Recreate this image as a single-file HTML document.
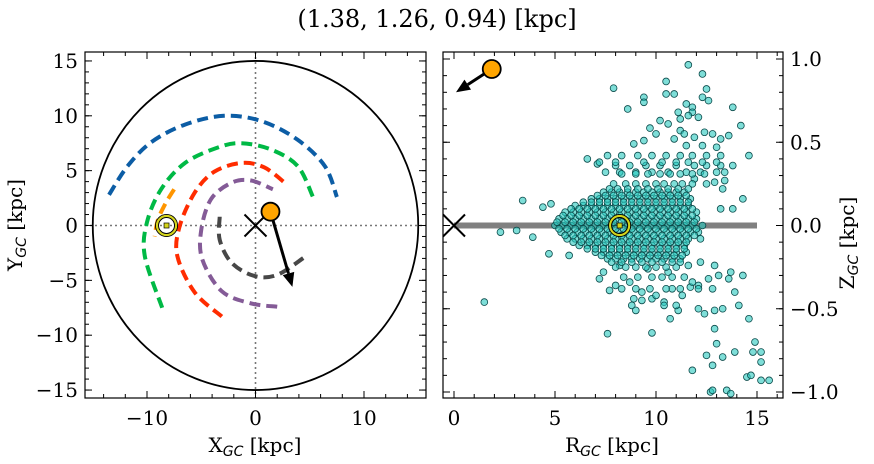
<!DOCTYPE html>
<html><head><meta charset="utf-8">
<style>
body{margin:0;background:#fff;}
svg{display:block;font-family:"DejaVu Serif","Liberation Serif",serif;}
.sub{font-family:"DejaVu Sans",sans-serif;font-style:italic;}
</style></head>
<body>
<svg id="fig" width="874" height="464" viewBox="0 0 874 464" xmlns="http://www.w3.org/2000/svg">
<text x="437" y="27" text-anchor="middle" font-size="24">(1.38, 1.26, 0.94) [kpc]</text>
<g id="left"></g>
<g id="right"></g>
<text x="255" y="452" text-anchor="middle" font-size="20">X<tspan class="sub" font-size="14" dy="4">GC</tspan><tspan dy="-4"> [kpc]</tspan></text>
<text transform="translate(22,225) rotate(-90)" text-anchor="middle" font-size="20">Y<tspan class="sub" font-size="14" dy="4">GC</tspan><tspan dy="-4"> [kpc]</tspan></text>
<text x="612" y="452" text-anchor="middle" font-size="20">R<tspan class="sub" font-size="14" dy="4">GC</tspan><tspan dy="-4"> [kpc]</tspan></text>
<text transform="translate(854,243) rotate(-90)" text-anchor="middle" font-size="20">Z<tspan class="sub" font-size="14" dy="4">GC</tspan><tspan dy="-4"> [kpc]</tspan></text>
</svg>
<script>
// ---- data ----
const xTicks = [-10, 0, 10];
const yTicks = [15, 10, 5, 0, -5, -10, -15];
const rTicks = [0, 5, 10, 15];
const zTicks = [1.0, 0.5, 0.0, -0.5, -1.0];
const zTickLabels = ["1.0", "0.5", "0.0", "\u22120.5", "\u22121.0"];
const starXYZ = [1.38, 1.26, 0.94];
const starArrowXY = [3.4, -5.6];
const starArrowRZ = [0.1, 0.8];
const sunX = -8.2;
const sunR = 8.2;
const diskRadius = 15;
const arcBlue = [[-13.5,2.8],[-11.8,5.4],[-9.6,7.6],[-6.5,9.2],[-2.9,10.0],[0.6,9.5],[3.9,7.8],[6.4,5.4],[7.5,2.6]];
const arcGreen = [[-8.6,-7.5],[-10.2,-2.8],[-10.0,0.3],[-8.7,3.3],[-6.5,5.7],[-3.5,7.1],[-1.3,7.5],[1.5,6.9],[3.9,5.4],[5.3,2.6]];
const arcRed = [[-3.1,-8.3],[-5.6,-6.1],[-7.2,-2.8],[-7.0,-0.1],[-5.6,3.0],[-3.8,4.9],[-1.3,5.7],[0.8,5.3],[2.7,3.9]];
const arcPurple = [[2.0,-7.4],[-0.4,-7.1],[-3.1,-6.0],[-4.9,-3.1],[-5.0,-0.4],[-4.1,2.4],[-2.2,3.9],[-0.4,4.1],[1.6,3.3]];
const arcGray = [[-3.3,0.8],[-3.3,-1.3],[-2.2,-3.4],[-0.1,-4.6],[2.0,-4.5],[4.5,-2.9]];
const arcOrange = [[-7.5,3.3],[-8.3,2.0],[-9.0,0.5],[-9.3,-1.0]];
const coreZ = [0.0,0.04,-0.04,0.08,-0.08,0.12,-0.12,0.16,-0.16,0.20,-0.20,0.25,-0.25,0.31,-0.31,0.38,-0.38,
  0.02,-0.02,0.06,-0.06,0.10,-0.10,0.14,-0.14,0.18,-0.18,0.22,-0.22];
const coreR = [
 [5.0,5.4,5.8,6.2,6.6,7.0,7.4,7.8,8.6,9.0,9.4,9.8,10.2,10.6,11.0,11.4,11.8,12.3],
 [5.2,5.6,6.0,6.4,6.8,7.2,7.6,8.0,8.4,8.8,9.2,9.6,10.0,10.4,10.8,11.2,11.6,12.0],
 [5.3,5.7,6.1,6.5,6.9,7.3,7.7,8.1,8.5,8.9,9.3,9.7,10.1,10.5,10.9,11.3,11.7,12.1],
 [5.5,5.9,6.3,6.7,7.1,7.5,7.9,8.3,8.7,9.1,9.5,9.9,10.3,10.7,11.1,11.5,12.0],
 [5.6,6.0,6.4,6.8,7.2,7.6,8.0,8.4,8.8,9.2,9.6,10.0,10.4,10.8,11.2,11.6,12.2],
 [6.0,6.4,6.8,7.2,7.6,8.0,8.4,8.8,9.2,9.6,10.0,10.4,10.8,11.2,11.6],
 [6.2,6.6,7.0,7.4,7.8,8.2,8.6,9.0,9.4,9.8,10.2,10.6,11.0,11.4],
 [6.8,7.2,7.6,8.0,8.4,8.8,9.2,9.6,10.0,10.4,10.8,11.2,11.7],
 [7.0,7.4,7.8,8.2,8.6,9.0,9.4,9.8,10.2,10.6,11.0,11.5],
 [7.4,7.8,8.2,8.6,9.0,9.4,9.8,10.2,10.6,11.0,11.4],
 [7.6,8.0,8.4,8.8,9.2,9.6,10.0,10.4,10.8,11.2],
 [7.9,8.5,9.0,9.5,10.0,10.4,10.9,11.3,11.8],
 [8.0,8.5,9.0,9.5,10.0,10.5,11.0],
 [8.3,9.0,9.6,10.2,10.7,11.2,11.8,12.4],
 [8.4,9.1,9.8,10.3,10.8,11.4],
 [7.2,8.0,9.4,10.3,11.0,11.6,12.3,13.0],
 [8.3,9.0,9.7,10.5,11.2,12.1,12.8],
 [5.1,5.5,5.9,6.3,6.7,7.1,7.5,7.9,8.3,8.7,9.1,9.5,9.9,10.3,10.7,11.1,11.5,11.9],
 [5.2,5.6,6.0,6.4,6.8,7.2,7.6,8.0,8.4,8.8,9.2,9.6,10.0,10.4,10.8,11.2,11.6,12.0],
 [5.4,5.8,6.2,6.6,7.0,7.4,7.8,8.2,8.6,9.0,9.4,9.8,10.2,10.6,11.0,11.4,11.8],
 [5.5,5.9,6.3,6.7,7.1,7.5,7.9,8.3,8.7,9.1,9.5,9.9,10.3,10.7,11.1,11.5,11.9],
 [5.8,6.2,6.6,7.0,7.4,7.8,8.2,8.6,9.0,9.4,9.8,10.2,10.6,11.0,11.4,11.8],
 [5.9,6.3,6.7,7.1,7.5,7.9,8.3,8.7,9.1,9.5,9.9,10.3,10.7,11.1,11.5],
 [6.4,6.8,7.2,7.6,8.0,8.4,8.8,9.2,9.6,10.0,10.4,10.8,11.2,11.6],
 [6.6,7.0,7.4,7.8,8.2,8.6,9.0,9.4,9.8,10.2,10.6,11.0,11.4],
 [7.1,7.5,7.9,8.3,8.7,9.1,9.5,9.9,10.3,10.7,11.1,11.5],
 [7.3,7.7,8.1,8.5,8.9,9.3,9.7,10.1,10.5,10.9,11.3],
 [7.7,8.1,8.6,9.1,9.6,10.1,10.6,11.1,11.6],
 [7.8,8.3,8.8,9.3,9.8,10.3,10.8,11.2]
];
const outerR = [11.6,12.3,10.5,7.9,12.5,10.5,10.9,9.4,9.4,12.3,12.6,8.6,11.5,11.8,11.8,12.1,13.8,11.1,11.2,11.6,10.2,10.6,9.7,14.2,
 11.2,11.4,11.9,12.4,12.8,13.2,13.6,10.0,9.4,8.9,10.9,11.5,12.3,13.0,7.6,8.3,9.1,9.8,10.5,11.2,11.8,12.5,13.2,14.6,6.6,7.1,
 8.0,8.7,9.5,10.2,11.0,11.9,12.5,13.2,13.8,7.5,8.2,9.0,9.8,10.6,11.5,12.2,13.0,13.4,11.9,12.5,12.9,13.3,13.4,14.3,13.8,13.2,
 3.4,4.4,4.8,2.3,3.1,3.9,4.7,5.7,1.5,7.6,9.8,7.7,8.9,9.8,10.4,10.7,11.1,11.7,12.1,12.4,12.9,13.3,14.6,
 12.9,13.0,12.5,12.8,13.3,13.9,14.9,14.8,15.2,15.2,14.5,14.7,15.2,15.6,11.8,12.7,12.8,13.5,13.7,
 7.2,8.0,8.7,9.3,10.0,10.8,11.3,12.1,12.6,13.1,13.6,13.9,14.1,14.3,13.7,11.8,11.0,10.4,9.3,8.8,9.0,
 7.4,8.2,9.6,10.6,11.6,12.2,12.9];
const outerZ = [0.965,0.91,0.865,0.825,0.82,0.79,0.79,0.77,0.74,0.77,0.75,0.70,0.73,0.71,0.68,0.65,0.71,0.68,0.64,0.66,0.63,0.61,0.585,0.60,
 0.57,0.55,0.53,0.56,0.55,0.52,0.54,0.55,0.51,0.49,0.52,0.48,0.48,0.47,0.42,0.42,0.42,0.42,0.42,0.42,0.42,0.42,0.42,0.42,0.40,0.37,
 0.36,0.36,0.36,0.36,0.36,0.36,0.36,0.36,0.36,0.32,0.32,0.32,0.32,0.32,0.32,0.32,0.32,0.32,0.28,0.25,0.26,0.22,0.27,0.16,0.10,0.10,
 0.15,0.11,0.13,-0.04,-0.03,-0.07,-0.17,-0.18,-0.46,-0.65,-0.645,-0.39,-0.44,-0.44,-0.46,-0.56,-0.51,-0.37,-0.50,-0.53,-0.51,-0.50,-0.56,
 -0.62,-0.71,-0.78,-0.84,-0.79,-0.76,-0.70,-0.76,-0.76,-0.82,-0.91,-0.90,-0.93,-0.93,-0.87,-1.0,-0.99,-0.99,-1.01,
 -0.32,-0.36,-0.34,-0.40,-0.42,-0.38,-0.42,-0.36,-0.32,-0.30,-0.32,-0.40,-0.48,-0.30,-0.28,-0.34,-0.48,-0.48,-0.45,-0.48,-0.51,
 -0.28,-0.24,-0.26,-0.28,-0.24,-0.22,-0.24];

// ---- rendering ----
const NS = "http://www.w3.org/2000/svg";
function mk(tag, attrs, parent){ const e=document.createElementNS(NS,tag); for(const k in attrs) e.setAttribute(k,attrs[k]); parent.appendChild(e); return e; }
const L = {x0:85,x1:426,y0:52,y1:398};
const lx = v => 255.5 + v*10.85;
const ly = v => 225.5 - v*10.97;
const R = {x0:443,x1:783,y0:52,y1:398};
const rx = v => 454 + v*20.2;
const rz = v => 225.5 - v*166.5;

const gl = document.getElementById('left');
const gr = document.getElementById('right');

const defs = mk('defs',{},document.getElementById('fig'));
const c1 = mk('clipPath',{id:'clipL'},defs); mk('rect',{x:L.x0,y:L.y0,width:L.x1-L.x0,height:L.y1-L.y0},c1);
const c2 = mk('clipPath',{id:'clipR'},defs); mk('rect',{x:R.x0,y:R.y0,width:R.x1-R.x0,height:R.y1-R.y0},c2);

const lp = mk('g',{'clip-path':'url(#clipL)'},gl);
let e;
e = mk('line',{x1:L.x0,x2:L.x1,y1:ly(0),y2:ly(0),stroke:'#777','stroke-width':1.6,'stroke-dasharray':'2,3'},lp);
 
e = mk('line',{x1:lx(0),x2:lx(0),y1:L.y0,y2:L.y1,stroke:'#777','stroke-width':1.6,'stroke-dasharray':'2,3'},lp);
 
e = mk('ellipse',{cx:lx(0),cy:ly(0),rx:diskRadius*10.85,ry:diskRadius*10.97,fill:'none',stroke:'#000','stroke-width':1.8},lp);
 

function smoothPath(pts, fx, fy){
  const p = pts.map(q=>[fx(q[0]),fy(q[1])]);
  let d = 'M'+p[0][0]+','+p[0][1];
  for(let i=0;i<p.length-1;i++){
    const p0=p[Math.max(i-1,0)], p1=p[i], p2=p[i+1], p3=p[Math.min(i+2,p.length-1)];
    const c1x=p1[0]+(p2[0]-p0[0])/6, c1y=p1[1]+(p2[1]-p0[1])/6;
    const c2x=p2[0]-(p3[0]-p1[0])/6, c2y=p2[1]-(p3[1]-p1[1])/6;
    d += ' C'+c1x+','+c1y+' '+c2x+','+c2y+' '+p2[0]+','+p2[1];
  }
  return d;
}
const arcs = [[arcBlue,'#0c5da5','arc-blue'],[arcGreen,'#00b945','arc-green'],[arcRed,'#ff2c00','arc-red'],
  [arcPurple,'#845b97','arc-purple'],[arcGray,'#474747','arc-gray'],[arcOrange,'#ff9500','arc-orange']];
arcs.forEach(a=>{
  const p = mk('path',{d:smoothPath(a[0],lx,ly),fill:'none',stroke:a[1],'stroke-width':4,'stroke-dasharray':'11,6'},lp);
  
  
});

function sunMarker(g,cx,cy,name){
  const s = mk('g',{},g);
  
  
  mk('circle',{cx:cx,cy:cy,r:11,fill:'none',stroke:'#000','stroke-width':1},s);
  mk('circle',{cx:cx,cy:cy,r:9.5,fill:'none',stroke:'#d4d41a','stroke-width':2.2},s);
  mk('circle',{cx:cx,cy:cy,r:8,fill:'none',stroke:'#000','stroke-width':1},s);
  mk('rect',{x:cx-2.5,y:cy-2.5,width:5,height:5,fill:'#d4d41a',stroke:'#000','stroke-width':0.7},s);
}
function xMarker(g,cx,cy,name){
  const s = mk('g',{stroke:'#000','stroke-width':2},g);
  
  
  mk('line',{x1:cx-11,y1:cy-11,x2:cx+11,y2:cy+11},s);
  mk('line',{x1:cx-11,y1:cy+11,x2:cx+11,y2:cy-11},s);
}
function arrow(g,x0,y0,x1,y1,name){
  const s = mk('g',{},g);
  
  
  const dx=x1-x0, dy=y1-y0, L2=Math.hypot(dx,dy), ux=dx/L2, uy=dy/L2;
  const hl=14, hw=6;
  const bx=x1-ux*hl, by=y1-uy*hl;
  mk('line',{x1:x0,y1:y0,x2:bx,y2:by,stroke:'#000','stroke-width':3},s);
  mk('polygon',{points:`${x1},${y1} ${bx-uy*hw},${by+ux*hw} ${bx+uy*hw},${by-ux*hw}`,fill:'#000'},s);
}
function starDot(g,cx,cy,name){
  const c = mk('circle',{cx:cx,cy:cy,r:9,fill:'#ffa500',stroke:'#000','stroke-width':1.8},g);
  
  
}
sunMarker(lp,lx(sunX),ly(0),'sun-marker-xy');
xMarker(lp,lx(0),ly(0),'galactic-center-xy');
arrow(lp,lx(starXYZ[0]),ly(starXYZ[1]),lx(starArrowXY[0]),ly(starArrowXY[1]),'velocity-arrow-xy');
starDot(lp,lx(starXYZ[0]),ly(starXYZ[1]),'star-xy');

const rp = mk('g',{'clip-path':'url(#clipR)'},gr);
e = mk('line',{x1:rx(0),x2:rx(15),y1:rz(0),y2:rz(0),stroke:'#808080','stroke-width':6},rp);
 
const sg = mk('g',{fill:'rgba(40,200,190,0.6)',stroke:'#0b4a4a','stroke-width':0.8},rp);


function pt(r,z){
  const c = mk('circle',{cx:rx(r),cy:rz(z),r:3.4},sg);
  
  
}
outerR.forEach((r,i)=>pt(r,outerZ[i]));
coreZ.forEach((z,i)=>coreR[i].forEach(r=>pt(r,z)));
sunMarker(rp,rx(sunR),rz(0),'sun-marker-rz');
xMarker(rp,rx(0),rz(0),'galactic-center-rz');
const starR = Math.hypot(starXYZ[0],starXYZ[1]);
arrow(rp,rx(starR),rz(starXYZ[2]),rx(starArrowRZ[0]),rz(starArrowRZ[1]),'velocity-arrow-rz');
starDot(rp,rx(starR),rz(starXYZ[2]),'star-rz');

function frame(g,B,name){
  const f = mk('rect',{x:B.x0,y:B.y0,width:B.x1-B.x0,height:B.y1-B.y0,fill:'none',stroke:'#000','stroke-width':1.2},g);
  
  
}
function tickLine(g,x1,y1,x2,y2){ mk('line',{x1:x1,y1:y1,x2:x2,y2:y2,stroke:'#000','stroke-width':1},g); }
function xticks(g,B,f,lo,hi,step,len){ for(let v=lo; v<=hi+1e-9; v+=step){ const x=f(v); if(x<B.x0||x>B.x1) continue; tickLine(g,x,B.y1,x,B.y1-len); tickLine(g,x,B.y0,x,B.y0+len);} }
function yticks(g,B,f,lo,hi,step,len){ for(let v=lo; v<=hi+1e-9; v+=step){ const y=f(v); if(y<B.y0||y>B.y1) continue; tickLine(g,B.x0,y,B.x0+len,y); tickLine(g,B.x1,y,B.x1-len,y);} }
function label(g,x,y,t,anchor,name){
  const e = mk('text',{x:x,y:y,'text-anchor':anchor,'font-size':20},g);
  e.textContent=t;
  
  
}
const neg = v => (v<0?'\u2212':'')+Math.abs(v);
const ta = mk('g',{},gl);
xticks(ta,L,lx,-16,16,2,4); xticks(ta,L,lx,-10,10,10,7);
yticks(ta,L,ly,-15,15,1,4); yticks(ta,L,ly,-15,15,5,7);
xTicks.forEach(v=>label(ta,lx(v),425,neg(v),'middle','x-tick-label'));
yTicks.forEach(v=>label(ta,78,ly(v)+7,neg(v),'end','y-tick-label'));
frame(gl,L,'xy-axes-frame');
const tb = mk('g',{},gr);
xticks(tb,R,rx,0,16,1,4); xticks(tb,R,rx,0,15,5,7);
yticks(tb,R,rz,-1,1,0.1,4); yticks(tb,R,rz,-1,1,0.5,7);
rTicks.forEach(v=>label(tb,rx(v),425,String(v),'middle','r-tick-label'));
zTicks.forEach((v,i)=>label(tb,790,rz(v)+7,zTickLabels[i],'start','z-tick-label'));
frame(gr,R,'rz-axes-frame');
</script>
</body></html>
